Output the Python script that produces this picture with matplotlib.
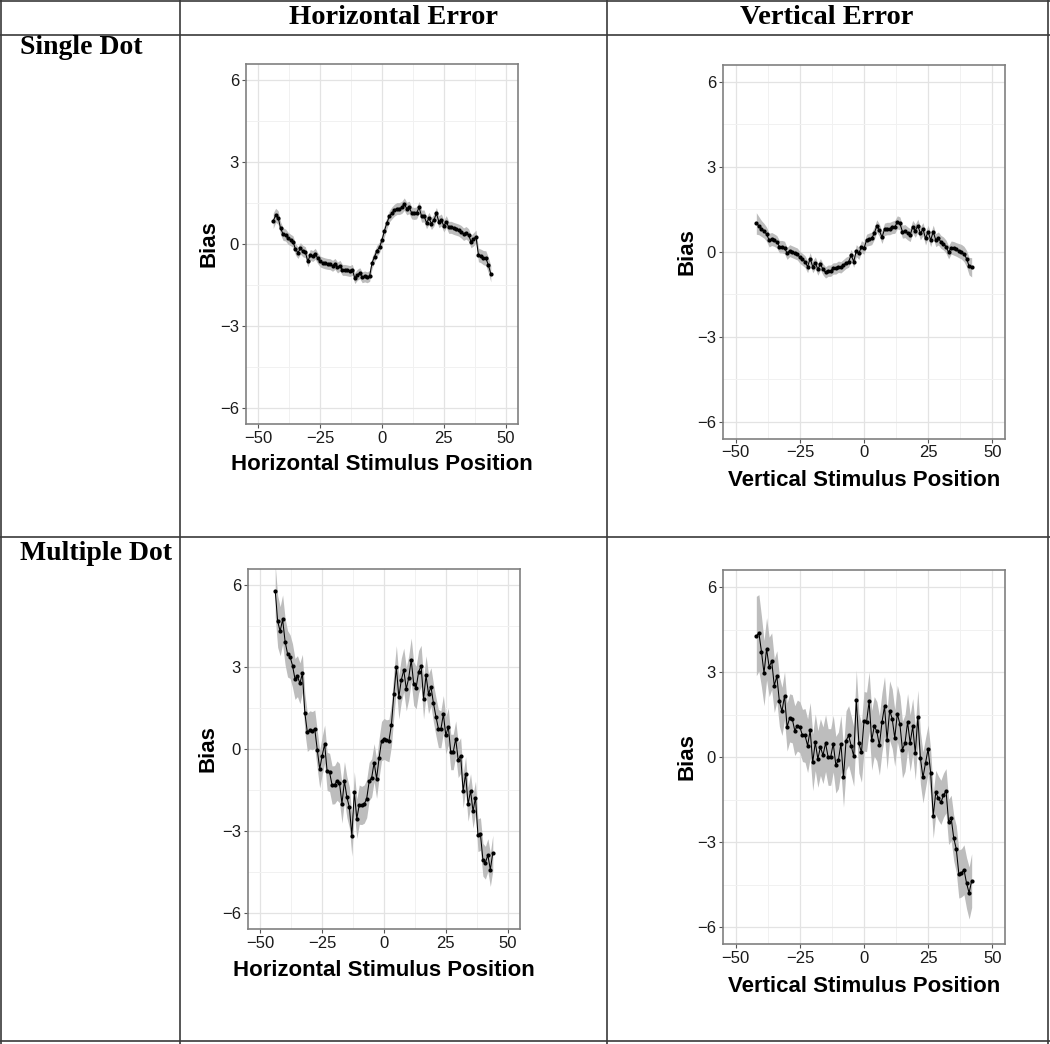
import matplotlib
matplotlib.use("Agg")
import matplotlib.pyplot as plt
from matplotlib.lines import Line2D
import numpy as np

# stimulus positions (1 deg steps)
x_horiz = np.arange(-44, 45)
x_vert = np.arange(-42, 43)

# Single dot, horizontal error
h_single = [0.85, 1.05, 0.97, 0.57, 0.36, 0.33, 0.21, 0.15, 0.09, -0.19,
            -0.32, -0.16, -0.26, -0.30, -0.64, -0.40, -0.44, -0.36, -0.52, -0.64,
            -0.68, -0.71, -0.73, -0.74, -0.80, -0.73, -0.86, -0.80, -0.95, -0.95,
            -0.97, -0.99, -0.95, -1.25, -1.13, -1.07, -1.22, -1.19, -1.22, -1.17,
            -0.68, -0.46, -0.24, -0.12, 0.15, 0.49, 0.78, 1.02, 1.14, 1.24,
            1.30, 1.30, 1.34, 1.46, 1.30, 1.34, 1.14, 1.12, 1.14, 1.34,
            1.02, 1.03, 0.78, 0.94, 0.75, 0.88, 1.12, 0.82, 0.88, 0.66,
            0.82, 0.61, 0.61, 0.57, 0.54, 0.51, 0.45, 0.36, 0.41, 0.33,
            0.09, 0.17, 0.27, -0.40, -0.44, -0.50, -0.52, -0.77, -1.09]
se_h_single = [0.28, 0.26, 0.25, 0.24, 0.23, 0.22, 0.22, 0.21, 0.21, 0.21,
               0.21, 0.21, 0.21, 0.20, 0.20, 0.20, 0.20, 0.20, 0.20, 0.20,
               0.20, 0.20, 0.20, 0.20, 0.20, 0.20, 0.20, 0.20, 0.20, 0.20,
               0.20, 0.20, 0.20, 0.20, 0.20, 0.20, 0.20, 0.20, 0.20, 0.20,
               0.20, 0.20, 0.20, 0.20, 0.20, 0.21, 0.21, 0.21, 0.22, 0.22,
               0.22, 0.22, 0.22, 0.23, 0.23, 0.23, 0.22, 0.22, 0.22, 0.22,
               0.22, 0.22, 0.22, 0.22, 0.22, 0.22, 0.22, 0.22, 0.22, 0.22,
               0.22, 0.22, 0.22, 0.22, 0.22, 0.22, 0.23, 0.23, 0.23, 0.23,
               0.23, 0.24, 0.24, 0.25, 0.25, 0.26, 0.27, 0.28, 0.30]

# Single dot, vertical error
v_single = [1.00, 0.92, 0.82, 0.74, 0.62, 0.41, 0.45, 0.41, 0.35, 0.18,
            0.18, 0.15, -0.06, 0.04, 0.00, -0.04, -0.08, -0.20, -0.27, -0.35,
            -0.53, -0.24, -0.53, -0.39, -0.62, -0.44, -0.62, -0.73, -0.67, -0.67,
            -0.59, -0.59, -0.53, -0.55, -0.47, -0.39, -0.35, -0.12, -0.35, 0.04,
            -0.06, 0.18, 0.12, 0.41, 0.44, 0.47, 0.65, 0.91, 0.76, 0.51,
            0.79, 0.82, 0.82, 0.86, 0.88, 1.04, 1.00, 0.71, 0.73, 0.65,
            0.59, 0.88, 0.74, 0.92, 0.65, 0.80, 0.47, 0.71, 0.41, 0.71,
            0.41, 0.47, 0.35, 0.29, 0.18, -0.02, 0.15, 0.12, 0.08, 0.04,
            0.00, -0.08, -0.24, -0.51, -0.55]
se_v_single = [0.38, 0.32, 0.28, 0.26, 0.25, 0.24, 0.23, 0.22, 0.22, 0.22,
               0.22, 0.22, 0.21, 0.21, 0.21, 0.21, 0.21, 0.21, 0.21, 0.21,
               0.21, 0.21, 0.21, 0.21, 0.21, 0.20, 0.20, 0.20, 0.20, 0.20,
               0.20, 0.20, 0.20, 0.20, 0.20, 0.20, 0.20, 0.20, 0.20, 0.21,
               0.21, 0.21, 0.21, 0.21, 0.22, 0.22, 0.22, 0.22, 0.22, 0.22,
               0.22, 0.22, 0.22, 0.22, 0.23, 0.23, 0.23, 0.23, 0.23, 0.23,
               0.23, 0.23, 0.23, 0.23, 0.23, 0.23, 0.23, 0.23, 0.23, 0.23,
               0.23, 0.23, 0.23, 0.23, 0.23, 0.23, 0.23, 0.24, 0.24, 0.25,
               0.26, 0.27, 0.29, 0.31, 0.34]

# Multiple dot, horizontal error
h_multi = [5.81, 4.68, 4.32, 4.75, 3.94, 3.49, 3.39, 3.06, 2.57, 2.67,
           2.41, 2.77, 1.32, 0.61, 0.70, 0.67, 0.73, -0.02, -0.73, -0.24,
           0.18, -0.82, -0.86, -1.32, -1.31, -1.16, -1.25, -2.00, -1.18, -1.77,
           -2.14, -3.18, -1.58, -2.56, -2.04, -2.07, -2.02, -1.82, -1.19, -1.06,
           -0.50, -1.09, -0.34, 0.29, 0.37, 0.32, 0.31, 0.89, 2.02, 2.99,
           1.90, 2.53, 2.90, 2.20, 2.61, 3.27, 2.40, 2.25, 2.83, 3.05,
           1.85, 2.70, 2.02, 2.28, 1.68, 1.19, 0.75, 0.72, 1.28, 0.50,
           0.82, -0.11, -0.11, 0.38, -0.40, -0.24, -1.54, -0.90, -2.03, -1.53,
           -2.28, -1.78, -3.16, -3.12, -4.06, -4.17, -3.89, -4.42, -3.81]
se_h_multi = [0.95, 0.95, 0.90, 0.90, 0.85, 0.85, 0.80, 0.80, 0.75, 0.75,
              0.75, 0.70, 0.70, 0.70, 0.70, 0.70, 0.70, 0.70, 0.70, 0.70,
              0.70, 0.70, 0.70, 0.70, 0.70, 0.72, 0.72, 0.72, 0.72, 0.75,
              0.75, 0.75, 0.75, 0.72, 0.72, 0.70, 0.70, 0.70, 0.70, 0.70,
              0.70, 0.72, 0.72, 0.72, 0.75, 0.75, 0.78, 0.78, 0.80, 0.80,
              0.80, 0.80, 0.80, 0.80, 0.80, 0.80, 0.80, 0.78, 0.78, 0.75,
              0.75, 0.72, 0.72, 0.70, 0.70, 0.70, 0.70, 0.68, 0.68, 0.68,
              0.68, 0.65, 0.65, 0.65, 0.65, 0.65, 0.62, 0.62, 0.62, 0.62,
              0.62, 0.60, 0.60, 0.60, 0.60, 0.60, 0.60, 0.62, 0.65]

# Multiple dot, vertical error
v_multi = [4.27, 4.38, 3.72, 2.96, 3.82, 3.18, 3.38, 2.52, 2.85, 1.96,
           1.61, 2.16, 1.06, 1.38, 1.35, 0.93, 1.11, 1.05, 0.76, 0.76,
           0.40, 0.94, -0.19, 0.52, -0.07, 0.35, 0.06, 0.49, 0.00, 0.00,
           0.47, -0.27, -0.12, 0.47, -0.72, 0.58, 0.76, 0.40, 0.02, 2.02,
           0.49, 0.16, 1.26, 1.24, 1.96, 0.59, 1.08, 0.91, 0.41, 1.22,
           1.79, 0.61, 1.64, 1.35, 0.67, 1.53, 1.16, 0.26, 0.49, 1.24,
           0.49, 1.08, 0.14, 1.41, -0.04, -0.72, -0.21, 0.28, -0.56, -2.07,
           -1.25, -1.45, -1.60, -1.35, -1.19, -2.29, -2.15, -2.86, -3.25, -4.13,
           -4.09, -3.98, -4.45, -4.80, -4.36]
se_v_multi = [1.40, 1.35, 1.25, 1.15, 1.10, 1.05, 1.00, 0.95, 0.90, 0.88,
              0.85, 0.85, 0.85, 0.85, 0.85, 0.88, 0.90, 0.90, 0.92, 0.95,
              0.95, 0.98, 1.00, 1.00, 1.00, 1.00, 1.00, 1.00, 1.00, 1.00,
              1.00, 1.00, 1.00, 1.00, 1.05, 1.05, 1.05, 1.05, 1.05, 1.05,
              1.05, 1.05, 1.05, 1.05, 1.05, 1.05, 1.05, 1.05, 1.05, 1.05,
              1.05, 1.05, 1.05, 1.05, 1.00, 1.00, 1.00, 1.00, 1.00, 1.00,
              1.00, 0.98, 0.95, 0.95, 0.92, 0.90, 0.88, 0.85, 0.82, 0.80,
              0.78, 0.78, 0.78, 0.78, 0.78, 0.80, 0.80, 0.80, 0.82, 0.85,
              0.85, 0.88, 0.90, 0.92, 0.95]

col_titles = ["Horizontal Error", "Vertical Error"]
row_titles = ["Single Dot", "Multiple Dot"]
x_titles = ["Horizontal Stimulus Position", "Vertical Stimulus Position"]

W, H = 1050, 1044
fig = plt.figure(figsize=(W / 100, H / 100), dpi=100)
fig.patch.set_facecolor("white")


def box(l, t, r, b):
    return [l / W, 1 - b / H, (r - l) / W, (b - t) / H]


def hline(y, x0=0, x1=W):
    fig.add_artist(Line2D([x0 / W, x1 / W], [1 - y / H, 1 - y / H],
                          color="#3a3a3a", lw=1.2))


def vline(x, y0=0, y1=H):
    fig.add_artist(Line2D([x / W, x / W], [1 - y0 / H, 1 - y1 / H],
                          color="#3a3a3a", lw=1.2))


# table grid
for y in [1, 35, 537, 1041]:
    hline(y)
for x in [1, 180, 607, 1048]:
    vline(x)

serif = "Liberation Serif"
fig.text(393.5 / W, 1 - 18 / H, col_titles[0], ha="center", va="center",
         family=serif, weight="bold", fontsize=20.5)
fig.text(827 / W, 1 - 18 / H, col_titles[1], ha="center", va="center",
         family=serif, weight="bold", fontsize=20.5)
fig.text(20 / W, 1 - 48 / H, row_titles[0], ha="left", va="center",
         family=serif, weight="bold", fontsize=20)
fig.text(20 / W, 1 - 554 / H, row_titles[1], ha="left", va="center",
         family=serif, weight="bold", fontsize=20)

panels = [
    # (pixel box, x, y, se, x label, xlabel center y, ylabel center x)
    ((246, 64, 518, 424), x_horiz, h_single, se_h_single, x_titles[0], 465, 208.5),
    ((723, 65, 1005, 438.5), x_vert, v_single, se_v_single, x_titles[1], 481, 687),
    ((248, 569, 520, 929), x_horiz, h_multi, se_h_multi, x_titles[0], 971, 208),
    ((723, 570, 1005, 944), x_vert, v_multi, se_v_multi, x_titles[1], 986, 687),
]

sans = "Liberation Sans"
for (l, t, r, b), xs, ys, se, xlab, xly, ylx in panels:
    ax = fig.add_axes(box(l, t, r, b))
    ys = np.array(ys)
    se = np.array(se)
    ax.fill_between(xs, ys - se, ys + se, color="#bdbdbd", lw=0, zorder=2)
    ax.plot(xs, ys, color="black", lw=0.75, zorder=3)
    ax.plot(xs, ys, "o", color="black", ms=2.0, zorder=4)

    ax.set_xlim(-55, 55)
    ax.set_ylim(-6.6, 6.6)
    ax.set_xticks([-50, -25, 0, 25, 50])
    ax.set_yticks([-6, -3, 0, 3, 6])
    ax.set_xticks([-37.5, -12.5, 12.5, 37.5], minor=True)
    ax.set_yticks([-4.5, -1.5, 1.5, 4.5], minor=True)
    ax.grid(which="major", color="#e3e3e3", lw=0.9, zorder=0)
    ax.grid(which="minor", color="#f1f1f1", lw=0.7, zorder=0)
    ax.set_axisbelow(True)
    ax.tick_params(which="major", length=3, width=0.8, color="#555555",
                   labelsize=12, labelcolor="#1a1a1a", pad=2)
    ax.tick_params(which="minor", length=0)
    for lab in ax.get_xticklabels() + ax.get_yticklabels():
        lab.set_family(sans)
    for sp in ax.spines.values():
        sp.set_color("#808080")
        sp.set_linewidth(1.2)

    ax.set_xlabel(xlab, family=sans, weight="bold", fontsize=16, va="center")
    ax.xaxis.set_label_coords(0.5, -(xly - b) / (b - t))
    ax.set_ylabel("Bias", family=sans, weight="bold", fontsize=16, va="center")
    ax.yaxis.set_label_coords(-(l - ylx) / (r - l), 0.5)

fig.savefig("out.png", dpi=100, facecolor="white")
